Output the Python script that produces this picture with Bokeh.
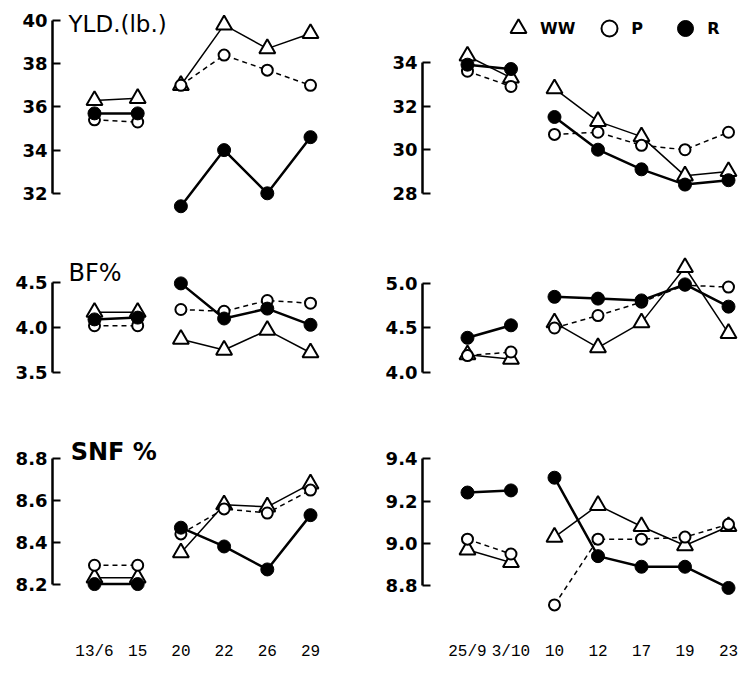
from bokeh.plotting import figure
from bokeh.layouts import column, row
from bokeh.models import Range1d, FixedTicker, Label, Legend, LegendItem, NumeralTickFormatter
from bokeh.embed import file_html
from bokeh.resources import INLINE

# ---- data ----
left_dates = ["13/6", "15", "20", "22", "26", "29"]
right_dates = ["25/9", "3/10", "10", "12", "17", "19", "23"]

yld_ww_l = [36.3, 36.4, 37.0, 39.8, 38.7, 39.4]
yld_p_l = [35.4, 35.3, 37.0, 38.4, 37.7, 37.0]
yld_r_l = [35.7, 35.7, 31.4, 34.0, 32.0, 34.6]
yld_ww_r = [34.3, 33.3, 32.8, 31.3, 30.6, 28.8, 29.0]
yld_p_r = [33.6, 32.9, 30.7, 30.8, 30.2, 30.0, 30.8]
yld_r_r = [33.9, 33.7, 31.5, 30.0, 29.1, 28.4, 28.6]

bf_ww_l = [4.17, 4.17, 3.87, 3.75, 3.97, 3.72]
bf_p_l = [4.02, 4.02, 4.20, 4.18, 4.30, 4.27]
bf_r_l = [4.09, 4.11, 4.49, 4.10, 4.21, 4.03]
bf_ww_r = [4.20, 4.15, 4.56, 4.28, 4.56, 5.18, 4.44]
bf_p_r = [4.19, 4.23, 4.50, 4.64, 4.79, 4.98, 4.96]
bf_r_r = [4.39, 4.53, 4.85, 4.83, 4.81, 4.99, 4.74]

snf_ww_l = [8.23, 8.23, 8.35, 8.58, 8.57, 8.68]
snf_p_l = [8.29, 8.29, 8.44, 8.56, 8.54, 8.65]
snf_r_l = [8.20, 8.20, 8.47, 8.38, 8.27, 8.53]
snf_ww_r = [8.97, 8.91, 9.03, 9.18, 9.08, 8.99, 9.08]
snf_p_r = [9.02, 8.95, 8.71, 9.02, 9.02, 9.03, 9.09]
snf_r_r = [9.24, 9.25, 9.31, 8.94, 8.89, 8.89, 8.79]

ticks_yld_l = [32, 34, 36, 38, 40]
ticks_yld_r = [28, 30, 32, 34]
ticks_bf_l = [3.5, 4.0, 4.5]
ticks_bf_r = [4.0, 4.5, 5.0]
ticks_snf_l = [8.2, 8.4, 8.6, 8.8]
ticks_snf_r = [8.8, 9.0, 9.2, 9.4]

series_names = ["WW", "P", "R"]

# ---- layout helpers ----
LEFT_X = (-0.972, 6.574)
RIGHT_X = (-1.034, 6.322)


def panel(width, height, xr, yr, ticks, dates, ww, pp, rr, border_left=44,
          border_top=0, bottom_border=0, show_x=False, fmt=None):
    p = figure(width=width, height=height, x_range=Range1d(*xr), y_range=Range1d(*yr),
               output_backend="svg", toolbar_location=None,
               x_axis_location="below" if show_x else None,
               min_border=0, min_border_left=border_left, min_border_top=border_top,
               min_border_bottom=bottom_border,
               outline_line_color=None, background_fill_color="white",
               border_fill_color="white")
    p.grid.visible = False
    ya = p.yaxis[0]
    ya.ticker = FixedTicker(ticks=ticks, minor_ticks=[])
    if fmt:
        ya.formatter = NumeralTickFormatter(format=fmt)
    ya.bounds = (min(ticks), max(ticks))
    ya.axis_line_width = 2.5
    ya.axis_line_color = "black"
    ya.major_tick_in = 8
    ya.major_tick_out = 0
    ya.major_tick_line_width = 2
    ya.minor_tick_line_color = None
    ya.major_label_standoff = 5
    ya.major_label_text_font = "DejaVu Sans"
    ya.major_label_text_font_style = "bold"
    ya.major_label_text_font_size = "18px"
    ya.major_label_text_color = "black"
    if show_x:
        xa = p.xaxis[0]
        xa.ticker = FixedTicker(ticks=list(range(len(dates))), minor_ticks=[])
        xa.major_label_overrides = {i: d for i, d in enumerate(dates)}
        xa.axis_line_color = None
        xa.major_tick_line_color = None
        xa.minor_tick_line_color = None
        xa.major_label_standoff = 14
        xa.major_label_text_font = "Liberation Mono"
        xa.major_label_text_font_size = "16px"
        xa.major_label_text_color = "black"

    x = list(range(len(dates)))
    styles = [
        (ww, dict(line_width=1.5, line_dash="solid")),
        (pp, dict(line_width=1.5, line_dash="5 4")),
        (rr, dict(line_width=2.5, line_dash="solid")),
    ]
    for vals, st in styles:
        p.line(x[:2], vals[:2], line_color="black", **st)
        p.line(x[2:], vals[2:], line_color="black", **st)
    r_ww = p.scatter(x, ww, marker="triangle", size=16, fill_color="white",
                     line_color="black", line_width=2)
    r_p = p.scatter(x, pp, marker="circle", size=11, fill_color="white",
                    line_color="black", line_width=2)
    r_r = p.scatter(x, rr, marker="circle", size=13, fill_color="black",
                    line_color="black", line_width=1)
    return p, (r_ww, r_p, r_r)


def title(p, text, x, y, style="normal", size="24px"):
    p.add_layout(Label(x=x, y=y, text=text, text_font="DejaVu Sans",
                       text_font_style=style, text_font_size=size,
                       text_baseline="middle", text_color="black"))


p1, _ = panel(378, 236, LEFT_X, (30.0, 40.556), ticks_yld_l, left_dates,
              yld_ww_l, yld_p_l, yld_r_l, border_left=52, border_top=8)
title(p1, "YLD.(lb.)", -0.6, 39.85, size="23px")

p2, rends = panel(364, 236, RIGHT_X, (26.018, 36.477), ticks_yld_r, right_dates,
                  yld_ww_r, yld_p_r, yld_r_r, border_top=8)
legend = Legend(items=[LegendItem(label=n, renderers=[r]) for n, r in zip(series_names, rends)],
                orientation="horizontal", location=(76, 188),
                glyph_width=40, glyph_height=40, label_standoff=2, spacing=14,
                padding=0, margin=0, border_line_color=None, background_fill_alpha=0,
                label_text_font="DejaVu Sans", label_text_font_style="bold",
                label_text_font_size="16px", label_text_color="black")
p2.add_layout(legend)

p3, _ = panel(378, 174, LEFT_X, (3.078, 5.011), ticks_bf_l, left_dates,
              bf_ww_l, bf_p_l, bf_r_l, border_left=52, fmt="0.0")
title(p3, "BF%", -0.6, 4.61)

p4, _ = panel(364, 174, RIGHT_X, (3.573, 5.528), ticks_bf_r, right_dates,
              bf_ww_r, bf_p_r, bf_r_r, fmt="0.0")

p5, _ = panel(378, 253, LEFT_X, (8.016, 9.031), ticks_snf_l, left_dates,
              snf_ww_l, snf_p_l, snf_r_l, border_left=52, bottom_border=33,
              show_x=True, fmt="0.0")
title(p5, "SNF %", -0.55, 8.83, style="bold")

p6, _ = panel(364, 253, RIGHT_X, (8.627, 9.627), ticks_snf_r, right_dates,
              snf_ww_r, snf_p_r, snf_r_r, bottom_border=33, show_x=True, fmt="0.0")

layout = column(row(p1, p2), row(p3, p4), row(p5, p6))

open("out.html", "w").write(file_html(layout, INLINE))
